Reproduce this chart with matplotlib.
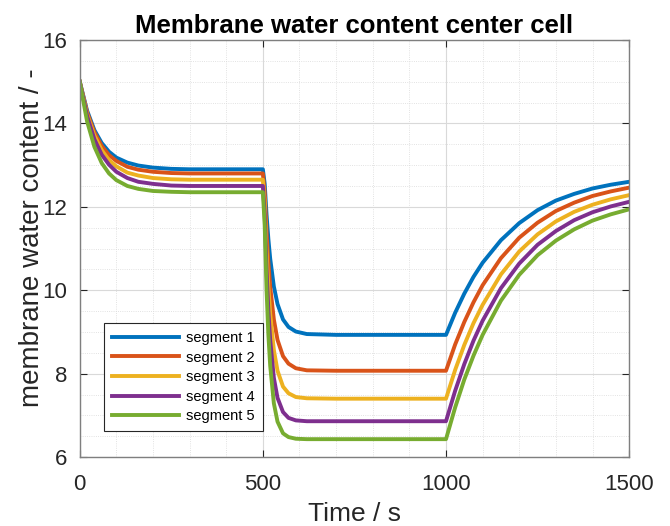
import matplotlib
matplotlib.use("Agg")
import matplotlib.pyplot as plt
from matplotlib.ticker import MultipleLocator

plt.rcParams['font.family'] = ['Liberation Sans', 'DejaVu Sans']

# time axis (s)
time = [0, 20, 40, 60, 80, 100, 130, 160, 200, 250, 300, 400, 500,
        505, 510, 515, 520, 530, 540, 555, 570, 590, 620, 700, 800, 900, 1000,
        1025, 1050, 1075, 1100, 1150, 1200, 1250, 1300, 1350, 1400, 1450, 1500]

# membrane water content per segment
seg1 = [15.0, 14.31, 13.84, 13.53, 13.32, 13.18, 13.06, 12.99, 12.94, 12.91, 12.90, 12.90, 12.90,
        12.55, 11.82, 11.23, 10.76, 10.09, 9.67, 9.30, 9.12, 9.01, 8.95, 8.93, 8.93, 8.93, 8.93,
        9.46, 9.92, 10.32, 10.66, 11.20, 11.61, 11.92, 12.15, 12.31, 12.44, 12.53, 12.60]
seg2 = [15.0, 14.27, 13.79, 13.46, 13.24, 13.10, 12.96, 12.89, 12.84, 12.81, 12.80, 12.80, 12.80,
        12.35, 11.40, 10.67, 10.09, 9.30, 8.81, 8.42, 8.24, 8.13, 8.08, 8.07, 8.07, 8.07, 8.07,
        8.70, 9.24, 9.71, 10.12, 10.77, 11.26, 11.62, 11.90, 12.10, 12.26, 12.37, 12.46]
seg3 = [15.0, 14.22, 13.71, 13.36, 13.12, 12.97, 12.82, 12.75, 12.69, 12.66, 12.65, 12.65, 12.65,
        12.10, 10.96, 10.09, 9.44, 8.57, 8.07, 7.69, 7.53, 7.44, 7.41, 7.40, 7.40, 7.40, 7.40,
        8.09, 8.69, 9.21, 9.65, 10.38, 10.93, 11.34, 11.65, 11.88, 12.05, 12.18, 12.28]
seg4 = [15.0, 14.18, 13.62, 13.25, 13.01, 12.84, 12.69, 12.60, 12.55, 12.51, 12.50, 12.50, 12.50,
        11.83, 10.50, 9.52, 8.81, 7.90, 7.42, 7.08, 6.94, 6.88, 6.86, 6.86, 6.86, 6.86, 6.86,
        7.59, 8.23, 8.79, 9.27, 10.05, 10.64, 11.09, 11.42, 11.68, 11.87, 12.01, 12.12]
seg5 = [15.0, 14.05, 13.44, 13.05, 12.80, 12.64, 12.50, 12.43, 12.38, 12.36, 12.35, 12.35, 12.35,
        11.56, 10.02, 8.94, 8.19, 7.29, 6.85, 6.57, 6.48, 6.44, 6.43, 6.43, 6.43, 6.43, 6.43,
        7.19, 7.86, 8.43, 8.93, 9.75, 10.37, 10.84, 11.19, 11.46, 11.67, 11.82, 11.94]

labels = ['segment 1', 'segment 2', 'segment 3', 'segment 4', 'segment 5']
colors = ['#0072BD', '#D95319', '#EDB120', '#7E2F8E', '#77AC30']

fig = plt.figure(figsize=(6.7, 5.26), dpi=100)
ax = fig.add_axes([0.119, 0.131, 0.820, 0.793])

for y, lab, c in zip([seg1, seg2, seg3, seg4, seg5], labels, colors):
    ax.plot(time, y, color=c, lw=2.8, label=lab)

ax.set_xlim(0, 1500)
ax.set_ylim(6, 16)
ax.xaxis.set_major_locator(MultipleLocator(500))
ax.xaxis.set_minor_locator(MultipleLocator(100))
ax.yaxis.set_major_locator(MultipleLocator(2))
ax.yaxis.set_minor_locator(MultipleLocator(0.5))

ax.grid(which='major', color='#d9d9d9', lw=0.8)
ax.grid(which='minor', color='#d9d9d9', lw=0.6, ls=':')
ax.set_axisbelow(True)

ax.tick_params(which='both', direction='in', top=True, right=True,
               labelsize=16, colors='#262626', length=5)
ax.tick_params(axis='x', pad=12)
ax.tick_params(axis='y', pad=9)
ax.tick_params(which='minor', length=0)
for s in ax.spines.values():
    s.set_color('#7f7f7f')
    s.set_linewidth(1.0)

ax.set_xlabel('Time / s', fontsize=19, color='#262626', labelpad=5)
ax.set_ylabel('membrane water content / -', fontsize=20, color='#262626')
ax.yaxis.set_label_coords(-0.064, 0.525)
ax.set_title('Membrane water content center cell', fontsize=18.5, fontweight='bold', pad=5)

leg = ax.legend(loc='lower left', bbox_to_anchor=(0.044, 0.062), borderaxespad=0,
                fontsize=10.5, handlelength=4.6, frameon=True, fancybox=False,
                edgecolor='#262626', framealpha=1, labelspacing=0.38,
                borderpad=0.55, handletextpad=0.5)
leg.get_frame().set_linewidth(0.8)

fig.savefig('out.png', dpi=100)
